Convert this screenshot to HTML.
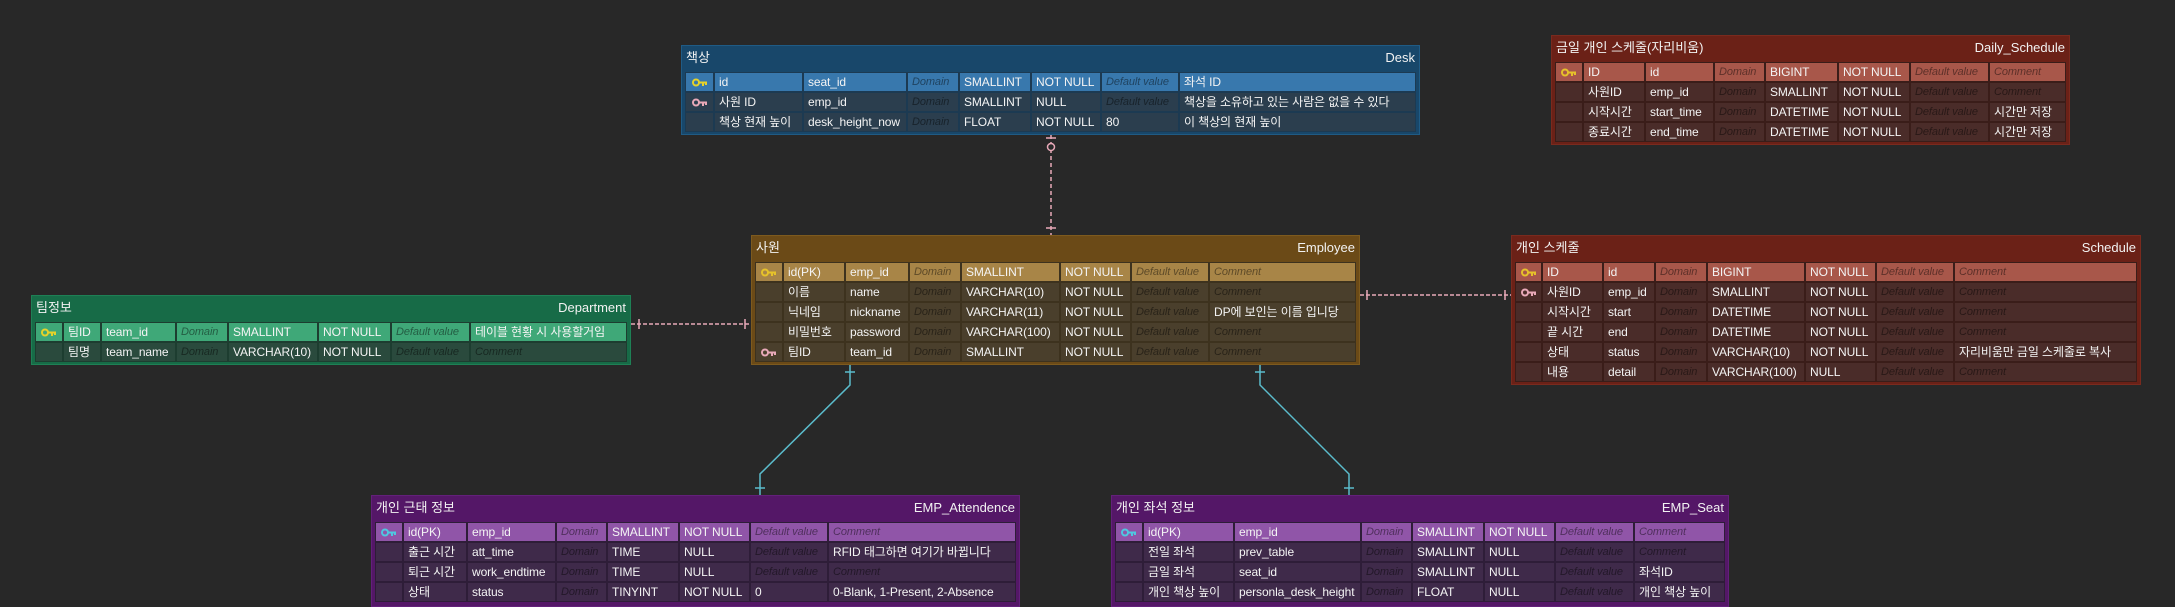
<!DOCTYPE html>
<html><head><meta charset="utf-8"><style>
body{margin:0;width:2175px;height:607px;background:#282828;position:relative;overflow:hidden;font-family:"Liberation Sans","Noto Sans CJK KR",sans-serif;}
.t{position:absolute;box-sizing:border-box;border:1px solid;}
.h{height:26px;position:relative;color:#f2f2f2;font-size:13px;}
.h span{position:absolute;top:4px;line-height:16px;height:16px;}
.h .k{left:4px}
.h .e{right:4px}
.g{display:grid;gap:2px;margin:0 3px;padding:1px;grid-auto-rows:18px;}
.g div{font-size:12px;line-height:18px;height:18px;padding-left:4px;color:#f4f4f4;white-space:nowrap;overflow:hidden;letter-spacing:-0.1px}
.g div.p{font-style:italic;font-size:11px;color:rgba(0,0,0,.45);}
.g div.i{padding:0;display:flex;align-items:center;justify-content:center}
svg.c{position:absolute;left:0;top:0}
</style></head><body>

<svg class="c" width="2175" height="607">
<g stroke="#e8a9b8" stroke-width="1.5" fill="none">
<line x1="1051" y1="135" x2="1051" y2="235" stroke-dasharray="4,3"/>
<line x1="1046" y1="138" x2="1056" y2="138"/>
<circle cx="1051" cy="147" r="3.5" fill="#282828"/>
<line x1="1046" y1="228" x2="1056" y2="228"/>
<line x1="631" y1="324" x2="750" y2="324" stroke-dasharray="4,2"/>
<line x1="639" y1="319" x2="639" y2="329"/>
<line x1="745" y1="319" x2="745" y2="329"/>
<line x1="1360" y1="295" x2="1511" y2="295" stroke-dasharray="4,2"/>
<line x1="1367" y1="290" x2="1367" y2="300"/>
<line x1="1505" y1="290" x2="1505" y2="300"/>
</g>
<g stroke="#5bbccc" stroke-width="1.5" fill="none">
<polyline points="850,365 850,385 760,474 760,495"/>
<line x1="845" y1="372" x2="855" y2="372"/>
<line x1="755" y1="488" x2="765" y2="488"/>
<polyline points="1260,365 1260,385 1349,474 1349,495"/>
<line x1="1255" y1="372" x2="1265" y2="372"/>
<line x1="1344" y1="488" x2="1354" y2="488"/>
</g>
</svg>

<!-- Desk -->
<div class="t" style="left:681px;top:45px;width:739px;height:90px;background:#18476a;border-color:#1f5b85">
<div class="h"><span class="k">책상</span><span class="e">Desk</span></div>
<div class="g" style="grid-template-columns:27px 87px 102px 50px 70px 68px 76px 1fr;background:#1c3a52">
<div class="i" style="background:#3878ad"><svg width="16" height="9"><circle cx="4" cy="4.5" r="3" fill="none" stroke="#e6d22a" stroke-width="2"/><path d="M7 4.5H15M11 4.5V8M14 4.5V7" stroke="#e6d22a" stroke-width="2"/></svg></div>
<div style="background:#3878ad">id</div><div style="background:#3878ad">seat_id</div><div class="p" style="background:#3878ad">Domain</div><div style="background:#3878ad">SMALLINT</div><div style="background:#3878ad">NOT NULL</div><div class="p" style="background:#3878ad">Default value</div><div style="background:#3878ad">좌석 ID</div>
<div class="i" style="background:#2b3e4e"><svg width="16" height="9"><circle cx="4" cy="4.5" r="3" fill="none" stroke="#e8a9b8" stroke-width="2"/><path d="M7 4.5H15M11 4.5V8M14 4.5V7" stroke="#e8a9b8" stroke-width="2"/></svg></div>
<div style="background:#2b3e4e">사원 ID</div><div style="background:#2b3e4e">emp_id</div><div class="p" style="background:#2b3e4e">Domain</div><div style="background:#2b3e4e">SMALLINT</div><div style="background:#2b3e4e">NULL</div><div class="p" style="background:#2b3e4e">Default value</div><div style="background:#2b3e4e">책상을 소유하고 있는 사람은 없을 수 있다</div>
<div style="background:#2b3e4e"></div><div style="background:#2b3e4e">책상 현재 높이</div><div style="background:#2b3e4e">desk_height_now</div><div class="p" style="background:#2b3e4e">Domain</div><div style="background:#2b3e4e">FLOAT</div><div style="background:#2b3e4e">NOT NULL</div><div style="background:#2b3e4e">80</div><div style="background:#2b3e4e">이 책상의 현재 높이</div>
</div></div>

<!-- Daily_Schedule -->
<div class="t" style="left:1551px;top:35px;width:519px;height:110px;background:#6b2117;border-color:#7a2a1e">
<div class="h"><span class="k">금일 개인 스케줄(자리비움)</span><span class="e">Daily_Schedule</span></div>
<div class="g" style="grid-template-columns:26px 60px 67px 49px 71px 70px 77px 1fr;background:#3a1d19">
<div class="i" style="background:#a8574a"><svg width="16" height="9"><circle cx="4" cy="4.5" r="3" fill="none" stroke="#e6c22a" stroke-width="2"/><path d="M7 4.5H15M11 4.5V8M14 4.5V7" stroke="#e6c22a" stroke-width="2"/></svg></div>
<div style="background:#a8574a">ID</div><div style="background:#a8574a">id</div><div class="p" style="background:#a8574a">Domain</div><div style="background:#a8574a">BIGINT</div><div style="background:#a8574a">NOT NULL</div><div class="p" style="background:#a8574a">Default value</div><div class="p" style="background:#a8574a">Comment</div>
<div style="background:#4a2c29"></div><div style="background:#4a2c29">사원ID</div><div style="background:#4a2c29">emp_id</div><div class="p" style="background:#4a2c29">Domain</div><div style="background:#4a2c29">SMALLINT</div><div style="background:#4a2c29">NOT NULL</div><div class="p" style="background:#4a2c29">Default value</div><div class="p" style="background:#4a2c29">Comment</div>
<div style="background:#4a2c29"></div><div style="background:#4a2c29">시작시간</div><div style="background:#4a2c29">start_time</div><div class="p" style="background:#4a2c29">Domain</div><div style="background:#4a2c29">DATETIME</div><div style="background:#4a2c29">NOT NULL</div><div class="p" style="background:#4a2c29">Default value</div><div style="background:#4a2c29">시간만 저장</div>
<div style="background:#4a2c29"></div><div style="background:#4a2c29">종료시간</div><div style="background:#4a2c29">end_time</div><div class="p" style="background:#4a2c29">Domain</div><div style="background:#4a2c29">DATETIME</div><div style="background:#4a2c29">NOT NULL</div><div class="p" style="background:#4a2c29">Default value</div><div style="background:#4a2c29">시간만 저장</div>
</div></div>

<!-- Employee -->
<div class="t" style="left:751px;top:235px;width:609px;height:130px;background:#6b4a17;border-color:#7d5a1e">
<div class="h"><span class="k">사원</span><span class="e">Employee</span></div>
<div class="g" style="grid-template-columns:26px 60px 62px 50px 97px 69px 76px 1fr;background:#3d321e">
<div class="i" style="background:#a88547"><svg width="16" height="9"><circle cx="4" cy="4.5" r="3" fill="none" stroke="#e6c22a" stroke-width="2"/><path d="M7 4.5H15M11 4.5V8M14 4.5V7" stroke="#e6c22a" stroke-width="2"/></svg></div>
<div style="background:#a88547">id(PK)</div><div style="background:#a88547">emp_id</div><div class="p" style="background:#a88547">Domain</div><div style="background:#a88547">SMALLINT</div><div style="background:#a88547">NOT NULL</div><div class="p" style="background:#a88547">Default value</div><div class="p" style="background:#a88547">Comment</div>
<div style="background:#4a3f2c"></div><div style="background:#4a3f2c">이름</div><div style="background:#4a3f2c">name</div><div class="p" style="background:#4a3f2c">Domain</div><div style="background:#4a3f2c">VARCHAR(10)</div><div style="background:#4a3f2c">NOT NULL</div><div class="p" style="background:#4a3f2c">Default value</div><div class="p" style="background:#4a3f2c">Comment</div>
<div style="background:#4a3f2c"></div><div style="background:#4a3f2c">닉네임</div><div style="background:#4a3f2c">nickname</div><div class="p" style="background:#4a3f2c">Domain</div><div style="background:#4a3f2c">VARCHAR(11)</div><div style="background:#4a3f2c">NOT NULL</div><div class="p" style="background:#4a3f2c">Default value</div><div style="background:#4a3f2c">DP에 보인는 이름 입니당</div>
<div style="background:#4a3f2c"></div><div style="background:#4a3f2c">비밀번호</div><div style="background:#4a3f2c">password</div><div class="p" style="background:#4a3f2c">Domain</div><div style="background:#4a3f2c">VARCHAR(100)</div><div style="background:#4a3f2c">NOT NULL</div><div class="p" style="background:#4a3f2c">Default value</div><div class="p" style="background:#4a3f2c">Comment</div>
<div class="i" style="background:#4a3f2c"><svg width="16" height="9"><circle cx="4" cy="4.5" r="3" fill="none" stroke="#e8a9b8" stroke-width="2"/><path d="M7 4.5H15M11 4.5V8M14 4.5V7" stroke="#e8a9b8" stroke-width="2"/></svg></div>
<div style="background:#4a3f2c">팀ID</div><div style="background:#4a3f2c">team_id</div><div class="p" style="background:#4a3f2c">Domain</div><div style="background:#4a3f2c">SMALLINT</div><div style="background:#4a3f2c">NOT NULL</div><div class="p" style="background:#4a3f2c">Default value</div><div class="p" style="background:#4a3f2c">Comment</div>
</div></div>

<!-- Schedule -->
<div class="t" style="left:1511px;top:235px;width:630px;height:150px;background:#6b2117;border-color:#7a2a1e">
<div class="h"><span class="k">개인 스케줄</span><span class="e">Schedule</span></div>
<div class="g" style="grid-template-columns:25px 59px 50px 50px 96px 69px 76px 1fr;background:#3a1d19">
<div class="i" style="background:#a8574a"><svg width="16" height="9"><circle cx="4" cy="4.5" r="3" fill="none" stroke="#e6c22a" stroke-width="2"/><path d="M7 4.5H15M11 4.5V8M14 4.5V7" stroke="#e6c22a" stroke-width="2"/></svg></div>
<div style="background:#a8574a">ID</div><div style="background:#a8574a">id</div><div class="p" style="background:#a8574a">Domain</div><div style="background:#a8574a">BIGINT</div><div style="background:#a8574a">NOT NULL</div><div class="p" style="background:#a8574a">Default value</div><div class="p" style="background:#a8574a">Comment</div>
<div class="i" style="background:#4a2c29"><svg width="16" height="9"><circle cx="4" cy="4.5" r="3" fill="none" stroke="#e8a9b8" stroke-width="2"/><path d="M7 4.5H15M11 4.5V8M14 4.5V7" stroke="#e8a9b8" stroke-width="2"/></svg></div>
<div style="background:#4a2c29">사원ID</div><div style="background:#4a2c29">emp_id</div><div class="p" style="background:#4a2c29">Domain</div><div style="background:#4a2c29">SMALLINT</div><div style="background:#4a2c29">NOT NULL</div><div class="p" style="background:#4a2c29">Default value</div><div class="p" style="background:#4a2c29">Comment</div>
<div style="background:#4a2c29"></div><div style="background:#4a2c29">시작시간</div><div style="background:#4a2c29">start</div><div class="p" style="background:#4a2c29">Domain</div><div style="background:#4a2c29">DATETIME</div><div style="background:#4a2c29">NOT NULL</div><div class="p" style="background:#4a2c29">Default value</div><div class="p" style="background:#4a2c29">Comment</div>
<div style="background:#4a2c29"></div><div style="background:#4a2c29">끝 시간</div><div style="background:#4a2c29">end</div><div class="p" style="background:#4a2c29">Domain</div><div style="background:#4a2c29">DATETIME</div><div style="background:#4a2c29">NOT NULL</div><div class="p" style="background:#4a2c29">Default value</div><div class="p" style="background:#4a2c29">Comment</div>
<div style="background:#4a2c29"></div><div style="background:#4a2c29">상태</div><div style="background:#4a2c29">status</div><div class="p" style="background:#4a2c29">Domain</div><div style="background:#4a2c29">VARCHAR(10)</div><div style="background:#4a2c29">NOT NULL</div><div class="p" style="background:#4a2c29">Default value</div><div style="background:#4a2c29">자리비움만 금일 스케줄로 복사</div>
<div style="background:#4a2c29"></div><div style="background:#4a2c29">내용</div><div style="background:#4a2c29">detail</div><div class="p" style="background:#4a2c29">Domain</div><div style="background:#4a2c29">VARCHAR(100)</div><div style="background:#4a2c29">NULL</div><div class="p" style="background:#4a2c29">Default value</div><div class="p" style="background:#4a2c29">Comment</div>
</div></div>

<!-- Department -->
<div class="t" style="left:31px;top:295px;width:600px;height:70px;background:#176b47;border-color:#1e8055">
<div class="h"><span class="k">팀정보</span><span class="e">Department</span></div>
<div class="g" style="grid-template-columns:26px 36px 73px 50px 88px 71px 77px 1fr;background:#1d3d30">
<div class="i" style="background:#3fa878"><svg width="16" height="9"><circle cx="4" cy="4.5" r="3" fill="none" stroke="#e6d22a" stroke-width="2"/><path d="M7 4.5H15M11 4.5V8M14 4.5V7" stroke="#e6d22a" stroke-width="2"/></svg></div>
<div style="background:#3fa878">팀ID</div><div style="background:#3fa878">team_id</div><div class="p" style="background:#3fa878">Domain</div><div style="background:#3fa878">SMALLINT</div><div style="background:#3fa878">NOT NULL</div><div class="p" style="background:#3fa878">Default value</div><div style="background:#3fa878">테이블 현황 시 사용할거임</div>
<div style="background:#2a4a3d"></div><div style="background:#2a4a3d">팀명</div><div style="background:#2a4a3d">team_name</div><div class="p" style="background:#2a4a3d">Domain</div><div style="background:#2a4a3d">VARCHAR(10)</div><div style="background:#2a4a3d">NOT NULL</div><div class="p" style="background:#2a4a3d">Default value</div><div class="p" style="background:#2a4a3d">Comment</div>
</div></div>

<!-- EMP_Attendence -->
<div class="t" style="left:371px;top:495px;width:649px;height:112px;background:#541767;border-color:#63207a">
<div class="h"><span class="k">개인 근태 정보</span><span class="e">EMP_Attendence</span></div>
<div class="g" style="grid-template-columns:26px 62px 87px 49px 70px 69px 76px 1fr;background:#2e1d38">
<div class="i" style="background:#9055a8"><svg width="16" height="9"><circle cx="4" cy="4.5" r="3" fill="none" stroke="#4fc8e0" stroke-width="2"/><path d="M7 4.5H15M11 4.5V8M14 4.5V7" stroke="#4fc8e0" stroke-width="2"/></svg></div>
<div style="background:#9055a8">id(PK)</div><div style="background:#9055a8">emp_id</div><div class="p" style="background:#9055a8">Domain</div><div style="background:#9055a8">SMALLINT</div><div style="background:#9055a8">NOT NULL</div><div class="p" style="background:#9055a8">Default value</div><div class="p" style="background:#9055a8">Comment</div>
<div style="background:#3f2a4a"></div><div style="background:#3f2a4a">출근 시간</div><div style="background:#3f2a4a">att_time</div><div class="p" style="background:#3f2a4a">Domain</div><div style="background:#3f2a4a">TIME</div><div style="background:#3f2a4a">NULL</div><div class="p" style="background:#3f2a4a">Default value</div><div style="background:#3f2a4a">RFID 태그하면 여기가 바뀝니다</div>
<div style="background:#3f2a4a"></div><div style="background:#3f2a4a">퇴근 시간</div><div style="background:#3f2a4a">work_endtime</div><div class="p" style="background:#3f2a4a">Domain</div><div style="background:#3f2a4a">TIME</div><div style="background:#3f2a4a">NULL</div><div class="p" style="background:#3f2a4a">Default value</div><div class="p" style="background:#3f2a4a">Comment</div>
<div style="background:#3f2a4a"></div><div style="background:#3f2a4a">상태</div><div style="background:#3f2a4a">status</div><div class="p" style="background:#3f2a4a">Domain</div><div style="background:#3f2a4a">TINYINT</div><div style="background:#3f2a4a">NOT NULL</div><div style="background:#3f2a4a">0</div><div style="background:#3f2a4a">0-Blank, 1-Present, 2-Absence</div>
</div></div>

<!-- EMP_Seat -->
<div class="t" style="left:1111px;top:495px;width:618px;height:112px;background:#541767;border-color:#63207a">
<div class="h"><span class="k">개인 좌석 정보</span><span class="e">EMP_Seat</span></div>
<div class="g" style="grid-template-columns:26px 89px 125px 49px 70px 69px 77px 1fr;background:#2e1d38">
<div class="i" style="background:#9055a8"><svg width="16" height="9"><circle cx="4" cy="4.5" r="3" fill="none" stroke="#4fc8e0" stroke-width="2"/><path d="M7 4.5H15M11 4.5V8M14 4.5V7" stroke="#4fc8e0" stroke-width="2"/></svg></div>
<div style="background:#9055a8">id(PK)</div><div style="background:#9055a8">emp_id</div><div class="p" style="background:#9055a8">Domain</div><div style="background:#9055a8">SMALLINT</div><div style="background:#9055a8">NOT NULL</div><div class="p" style="background:#9055a8">Default value</div><div class="p" style="background:#9055a8">Comment</div>
<div style="background:#3f2a4a"></div><div style="background:#3f2a4a">전일 좌석</div><div style="background:#3f2a4a">prev_table</div><div class="p" style="background:#3f2a4a">Domain</div><div style="background:#3f2a4a">SMALLINT</div><div style="background:#3f2a4a">NULL</div><div class="p" style="background:#3f2a4a">Default value</div><div class="p" style="background:#3f2a4a">Comment</div>
<div style="background:#3f2a4a"></div><div style="background:#3f2a4a">금일 좌석</div><div style="background:#3f2a4a">seat_id</div><div class="p" style="background:#3f2a4a">Domain</div><div style="background:#3f2a4a">SMALLINT</div><div style="background:#3f2a4a">NULL</div><div class="p" style="background:#3f2a4a">Default value</div><div style="background:#3f2a4a">좌석ID</div>
<div style="background:#3f2a4a"></div><div style="background:#3f2a4a">개인 책상 높이</div><div style="background:#3f2a4a">personla_desk_height</div><div class="p" style="background:#3f2a4a">Domain</div><div style="background:#3f2a4a">FLOAT</div><div style="background:#3f2a4a">NULL</div><div class="p" style="background:#3f2a4a">Default value</div><div style="background:#3f2a4a">개인 책상 높이</div>
</div></div>

</body></html>
